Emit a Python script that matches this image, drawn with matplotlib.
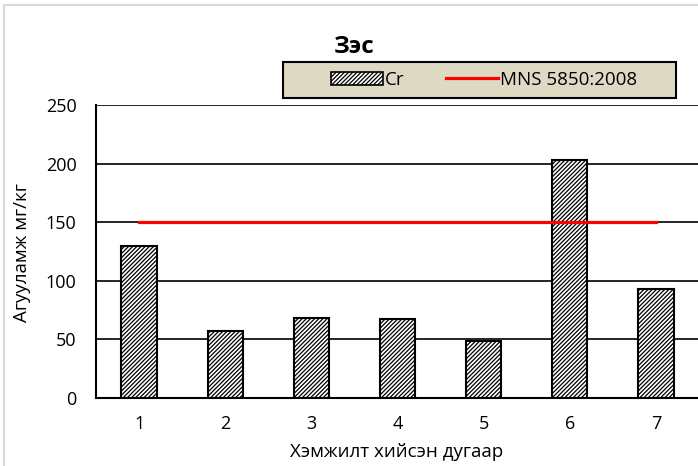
import matplotlib
matplotlib.use("Agg")
import matplotlib.pyplot as plt
from matplotlib.patches import Rectangle, Patch
from matplotlib.lines import Line2D

plt.rcParams['font.family'] = ['Open Sans', 'DejaVu Sans']
plt.rcParams['hatch.linewidth'] = 0.9

# Data
samples = [1, 2, 3, 4, 5, 6, 7]
cr_values = [130, 57, 68, 67, 49, 203, 93]
standard_value = 150
yticks = [0, 50, 100, 150, 200, 250]

W, H = 698, 466
FS = 13
fig = plt.figure(figsize=(W / 100, H / 100), dpi=100)
ax = fig.add_axes([96 / W, 1 - 398 / H, 603 / W, 293 / H])

ax.bar(samples, cr_values, width=0.41, facecolor='white', edgecolor='black',
       linewidth=1.5, hatch='////////', zorder=3)
ax.plot([samples[0], samples[-1]], [standard_value, standard_value],
        color='#FF0000', linewidth=2.3, zorder=4)

ax.set_xlim(0.5, 7.5)
ax.set_ylim(0, 250)
ax.set_yticks(yticks)
ax.set_xticks(samples)
ax.yaxis.grid(True, color='black', linewidth=1.2, zorder=0)
ax.set_axisbelow(True)
for side in ['top', 'right']:
    ax.spines[side].set_visible(False)
for side in ['left', 'bottom']:
    ax.spines[side].set_linewidth(1.5)
    ax.spines[side].set_color('black')
ax.tick_params(axis='both', length=0, labelsize=FS, colors='black')
ax.tick_params(axis='y', pad=14)
ax.tick_params(axis='x', pad=12)

fig.text(22 / W, 1 - 253 / H, 'Агууламж мг/кг', rotation=90, ha='center',
         va='center', fontsize=13.5)
fig.text(397 / W, 1 - 452 / H, 'Хэмжилт хийсэн дугаар', ha='center',
         va='center', fontsize=13.5)
fig.text(354 / W, 1 - 47 / H, 'Зэс', ha='center', va='center',
         fontsize=17.5, fontweight='bold')

# Legend box
box = Rectangle((283 / W, 1 - 98 / H), (676 - 283) / W, (98 - 62) / H,
                transform=fig.transFigure, facecolor='#DDD9C3',
                edgecolor='black', linewidth=1.5, zorder=1)
fig.patches.append(box)
handles = [Patch(facecolor='white', edgecolor='black', hatch='////////', linewidth=1.2),
           Line2D([0], [0], color='#FF0000', linewidth=2.3)]
leg = fig.legend(handles, ['Cr', 'MNS 5850:2008'], ncol=2, frameon=False,
                 loc='center', bbox_to_anchor=(484 / W, 1 - 80 / H),
                 fontsize=13.5, handlelength=2.8, handletextpad=0.1,
                 columnspacing=2.2)
leg.set_zorder(2)

# Light outer frame
fig.add_artist(Line2D([4 / W, 4 / W], [0, 1 - 5 / H], transform=fig.transFigure,
                      color='#D9D9D9', linewidth=1.5))
fig.add_artist(Line2D([4 / W, 1], [1 - 5 / H, 1 - 5 / H], transform=fig.transFigure,
                      color='#D9D9D9', linewidth=1.5))

fig.savefig('out.png', dpi=100)
